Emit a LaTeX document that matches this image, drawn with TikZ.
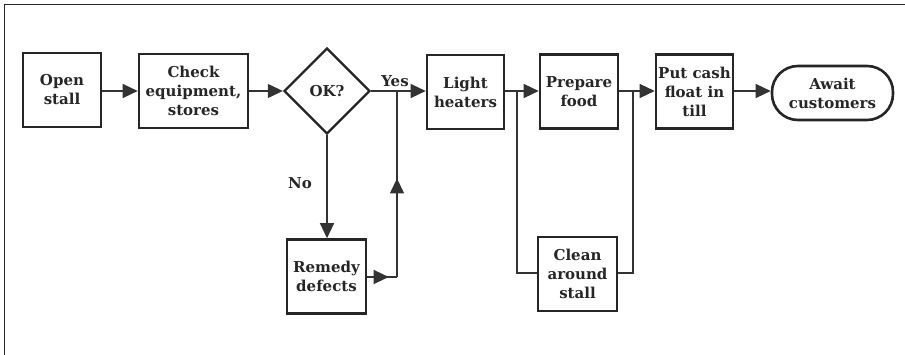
\documentclass[tikz,border=0pt]{standalone}
\usepackage{fontspec}
\setmainfont{DejaVu Serif}
\usetikzlibrary{shapes.geometric,arrows.meta,decorations.markings}
\begin{document}
\begin{tikzpicture}[x=1pt,y=-1pt,
  every node/.style={font=\fontsize{15}{19}\selectfont\bfseries, text=black!85, align=center, inner sep=0pt},
  stepbox/.style={draw=black!85, line width=2.6pt, minimum width=#1, minimum height=74pt},
  stepbox/.default=78pt,
  decision/.style={draw=black!85, line width=2.4pt, diamond, minimum width=86pt, minimum height=86pt},
  terminal/.style={draw=black!85, line width=2.6pt, rounded corners=26pt, minimum width=121pt, minimum height=54pt},
  link/.style={draw=black!80, line width=1.3pt},
  tip/.style={-{Triangle[length=15pt,width=14pt]}},
  markarrow/.style={decoration={markings, mark=at position #1 with {\arrow{Triangle[length=15pt,width=14pt]}}}, postaction={decorate}}
]
\useasboundingbox (0,0) rectangle (905,355);
% open frame: top and left edges only
\draw[black!85, line width=1.6pt] (905,4.5) -- (4.5,4.5) -- (4.5,355);

% main row
\node[stepbox] (open) at (62,90) {Open\\stall};
\node[stepbox=109pt] (check) at (193.5,91) {Check\\equipment,\\stores};
\node[decision] (ok) at (327,91) {OK?};
\node[stepbox=77pt] (light) at (465.5,92) {Light\\heaters};
\node[stepbox] (prep) at (579,91.5) {Prepare\\food};
\node[stepbox=77pt] (cash) at (694.5,91.5) {Put cash\\float in\\till};
\node[terminal] (await) at (832.5,93) {Await\\customers};

% lower row
\node[stepbox=79pt] (remedy) at (326.5,276.5) {Remedy\\defects};
\node[stepbox=79pt] (clean) at (577.5,274) {Clean\\around\\stall};

% junction points
\coordinate (j1) at (397,91);
\coordinate (r1) at (397,277);
\coordinate (j2) at (517,91);
\coordinate (c1) at (517,273);
\coordinate (j3) at (633,91);
\coordinate (c2) at (633,273);

% connectors
\draw[link,tip] (open.east |- 0,91) -- (check.west |- 0,91);
\draw[link,tip] (check.east |- 0,91) -- (ok.west);
\draw[link] (ok.east) -- (j1);
\draw[link,tip] (j1) -- (light.west |- j1);
\node at (395,81) {Yes};
\draw[link,tip] (ok.south) -- (remedy.north -| ok.south);
\node at (300,183) {No};
\draw[link,markarrow=0.72] (remedy.east |- r1) -- (r1);
\draw[link,markarrow=0.53] (r1) -- (j1);

\draw[link] (light.east |- j2) -- (j2);
\draw[link,tip] (j2) -- (prep.west |- j2);
\draw[link] (j2) -- (c1) -- (clean.west |- c1);
\draw[link] (prep.east |- j3) -- (j3);
\draw[link,tip] (j3) -- (cash.west |- j3);
\draw[link] (clean.east |- c2) -- (c2) -- (j3);
\draw[link,tip] (cash.east |- j3) -- (await.west |- j3);
\end{tikzpicture}
\end{document}
